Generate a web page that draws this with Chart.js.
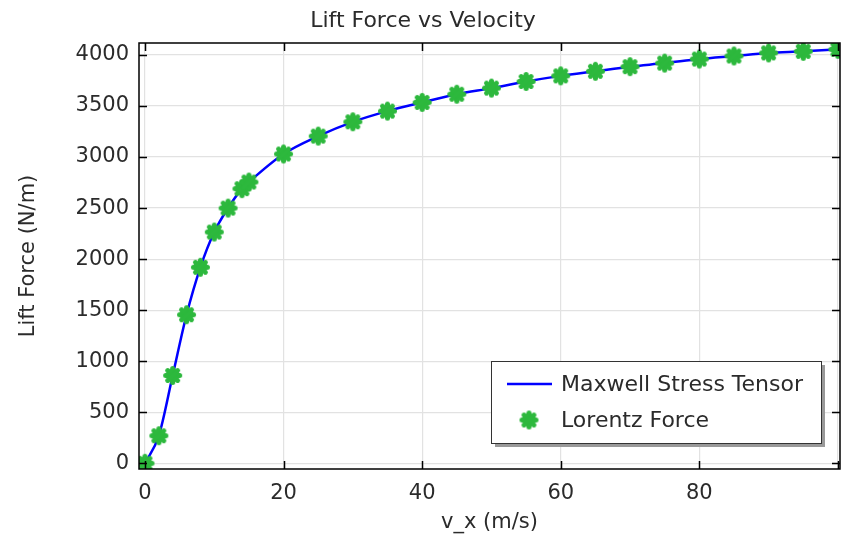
<!DOCTYPE html>
<html>
<head>
<meta charset="utf-8">
<title>Lift Force vs Velocity</title>
<script src="https://cdn.jsdelivr.net/npm/chart.js@4/dist/chart.umd.min.js"></script>
<style>
  body { margin: 0; background: #fff; }
  #wrap { width: 850px; height: 535px; }
</style>
</head>
<body>
<div id="wrap"><canvas id="myChart" width="850" height="535"></canvas></div>
<script>
// data
const velocity = [0, 2, 4, 6, 8, 10, 12, 14, 15, 20, 25, 30, 35, 40, 45, 50, 55, 60, 65, 70, 75, 80, 85, 90, 95, 100];
const maxwellForce = [0, 270, 860, 1455, 1920, 2265, 2500, 2690, 2755, 3030, 3205, 3345, 3450, 3535, 3615, 3675, 3740, 3795, 3840, 3885, 3920, 3960, 3990, 4020, 4035, 4055];
const lorentzForce = [0, 270, 860, 1455, 1920, 2265, 2500, 2690, 2755, 3030, 3205, 3345, 3450, 3535, 3615, 3675, 3740, 3795, 3840, 3885, 3920, 3960, 3990, 4020, 4035, 4055];
const seriesNames = ['Maxwell Stress Tensor', 'Lorentz Force'];
const xTicks = [0, 20, 40, 60, 80, 100];
const xTickLabels = ['0', '20', '40', '60', '80', ''];
const yTicks = [0, 500, 1000, 1500, 2000, 2500, 3000, 3500, 4000];

const FONT = 'DejaVu Sans';
const TEXT = '#2b2b2b';
const GREEN = '#2db83d';
const TICK = 8;

// asterisk marker
function makeAsterisk(r, w) {
    const c = document.createElement('canvas');
    const s = Math.ceil(2 * r + w + 2);
    c.width = s;
    c.height = s;
    const g = c.getContext('2d');
    g.strokeStyle = GREEN;
    g.lineWidth = w;
    g.lineCap = 'round';
    g.translate(s / 2, s / 2);
    for (let i = 0; i < 4; i++) {
        const a = i * Math.PI / 4;
        g.beginPath();
        g.moveTo(-r * Math.cos(a), -r * Math.sin(a));
        g.lineTo(r * Math.cos(a), r * Math.sin(a));
        g.stroke();
    }
    return c;
}
const asterisk = makeAsterisk(7, 5);

const toPoints = (xs, ys) => xs.map((v, i) => ({x: v, y: ys[i]}));

const frame = {
    id: 'frame',
    afterDraw(chart) {
        const {ctx, chartArea: a, scales: {x, y}} = chart;
        ctx.save();
        ctx.strokeStyle = '#000';
        ctx.lineWidth = 1.5;
        ctx.strokeRect(a.left, a.top, a.right - a.left, a.bottom - a.top);
        ctx.beginPath();
        xTicks.forEach(v => {
            const px = Math.round(x.getPixelForValue(v)) + 0.5;
            ctx.moveTo(px, a.bottom); ctx.lineTo(px, a.bottom - TICK);
            ctx.moveTo(px, a.top); ctx.lineTo(px, a.top + TICK);
        });
        yTicks.forEach(v => {
            const py = Math.round(y.getPixelForValue(v)) + 0.5;
            ctx.moveTo(a.left, py); ctx.lineTo(a.left + TICK, py);
            ctx.moveTo(a.right, py); ctx.lineTo(a.right - TICK, py);
        });
        ctx.stroke();

        // legend box, lower right inside the plot
        const bw = 330, bh = 82;
        const bx = a.right - 19 - bw, by = a.bottom - 26 - bh;
        ctx.fillStyle = '#999';
        ctx.fillRect(bx + 4, by + 4, bw, bh);
        ctx.fillStyle = '#fff';
        ctx.fillRect(bx, by, bw, bh);
        ctx.strokeStyle = '#333';
        ctx.lineWidth = 1;
        ctx.strokeRect(bx + 0.5, by + 0.5, bw, bh);

        ctx.strokeStyle = '#0000ff';
        ctx.lineWidth = 2.5;
        ctx.beginPath();
        ctx.moveTo(bx + 16, by + 23);
        ctx.lineTo(bx + 61, by + 23);
        ctx.stroke();
        ctx.drawImage(asterisk, bx + 38 - asterisk.width / 2, by + 59 - asterisk.height / 2);

        ctx.fillStyle = TEXT;
        ctx.font = '22px "' + FONT + '"';
        ctx.textBaseline = 'middle';
        ctx.textAlign = 'left';
        ctx.fillText(seriesNames[0], bx + 70, by + 24);
        ctx.fillText(seriesNames[1], bx + 70, by + 60);
        ctx.restore();
    }
};

const ctx = document.getElementById('myChart').getContext('2d');
new Chart(ctx, {
    type: 'line',
    data: {
        datasets: [{
            label: seriesNames[0],
            data: toPoints(velocity, maxwellForce),
            borderColor: '#0000ff',
            borderWidth: 2.5,
            pointRadius: 0,
            cubicInterpolationMode: 'monotone',
            clip: 0,
            order: 1
        }, {
            label: seriesNames[1],
            data: toPoints(velocity, lorentzForce),
            showLine: false,
            pointStyle: asterisk,
            pointRadius: 9,
            clip: 0,
            order: 0
        }]
    },
    options: {
        responsive: false,
        animation: false,
        layout: {padding: {left: 0, right: 4, top: 0, bottom: 0}},
        plugins: {
            legend: {display: false},
            tooltip: {enabled: false},
            title: {
                display: true,
                text: 'Lift Force vs Velocity',
                color: TEXT,
                font: {family: FONT, size: 22, weight: 'normal'},
                padding: {top: 8, bottom: 8.6}
            }
        },
        scales: {
            x: {
                type: 'linear',
                min: -0.86,
                max: 100.3,
                afterBuildTicks: s => { s.ticks = xTicks.map(v => ({value: v})); },
                afterFit: s => { s.height = 66; },
                ticks: {
                    color: TEXT,
                    font: {family: FONT, size: 21},
                    padding: 12,
                    maxRotation: 0,
                    callback: (v) => xTickLabels[xTicks.indexOf(v)]
                },
                grid: {color: '#e2e2e2', lineWidth: 1.2, drawTicks: false},
                border: {display: false},
                title: {
                    display: true,
                    text: 'v_x (m/s)',
                    color: TEXT,
                    font: {family: FONT, size: 21},
                    padding: {top: 0, bottom: 0}
                }
            },
            y: {
                type: 'linear',
                min: -56,
                max: 4117,
                afterBuildTicks: s => { s.ticks = yTicks.map(v => ({value: v})); },
                afterFit: s => { s.width = 139; },
                ticks: {
                    color: TEXT,
                    font: {family: FONT, size: 21},
                    padding: 10,
                    callback: (v) => String(v)
                },
                grid: {color: '#e2e2e2', lineWidth: 1.2, drawTicks: false},
                border: {display: false},
                title: {
                    display: true,
                    text: 'Lift Force (N/m)',
                    color: TEXT,
                    font: {family: FONT, size: 21},
                    padding: {top: 16, bottom: 0}
                }
            }
        }
    },
    plugins: [frame]
});
</script>
</body>
</html>
